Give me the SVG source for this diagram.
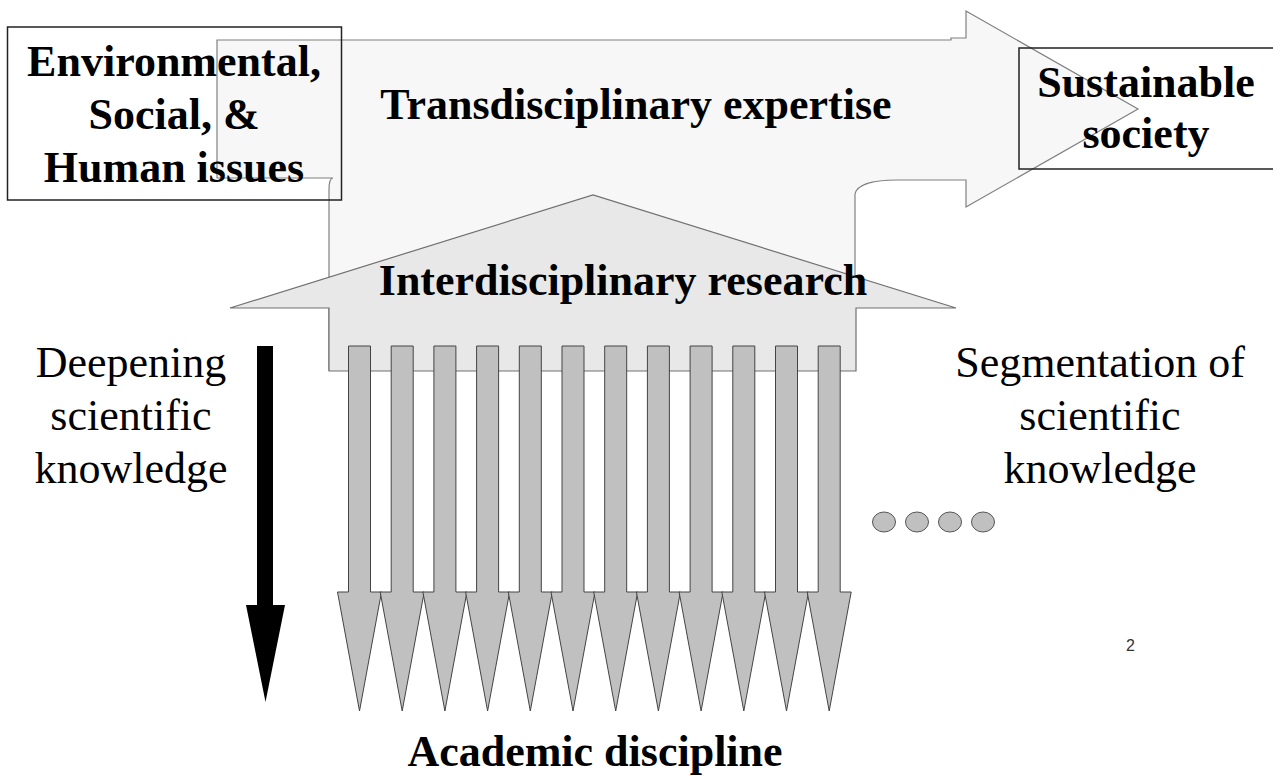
<svg xmlns="http://www.w3.org/2000/svg" width="1273" height="776" viewBox="0 0 1273 776">
<defs>
<style>
.bold{font-family:"Liberation Serif","Times New Roman",serif;font-weight:bold;font-size:44px;fill:#000;text-anchor:middle}
.reg{font-family:"Liberation Serif","Times New Roman",serif;font-size:44px;fill:#000;text-anchor:middle}
.box{fill:none;stroke:#222;stroke-width:1.5}
.bar{fill:#c0c0c0;stroke:#444;stroke-width:1}
.dot{fill:#c0c0c0;stroke:#555;stroke-width:1}
</style>
<polygon id="darr" class="bar" points="-11,346 11,346 11,592 22,592 0,711 -22,592 -11,592"/>
</defs>
<rect width="1273" height="776" fill="#fff"/>
<g id="transdisciplinary">
<path d="M217,40 H951 V38 H966 V11 L1138,109 L966,207 V180 H897 C875,180 857,184 855,194 V370 H329 V190 Q329,178 333,178 H217 Z" fill="#f7f7f7" stroke="#808080" stroke-width="1.2"/>
<text class="bold" x="636" y="119">Transdisciplinary expertise</text>
</g>
<g id="interdisciplinary">
<path d="M230,308 L593,195 L956,308 H856 V371 H329 V308 Z" fill="#e8e8e8" stroke="#707070" stroke-width="1.2"/>
<text class="bold" x="623" y="295">Interdisciplinary research</text>
</g>
<g id="disciplines">
<use href="#darr" x="359.5"/>
<use href="#darr" x="402.2"/>
<use href="#darr" x="444.9"/>
<use href="#darr" x="487.6"/>
<use href="#darr" x="530.3"/>
<use href="#darr" x="573"/>
<use href="#darr" x="615.7"/>
<use href="#darr" x="658.4"/>
<use href="#darr" x="701.1"/>
<use href="#darr" x="743.8"/>
<use href="#darr" x="786.5"/>
<use href="#darr" x="829.2"/>
</g>
<g id="issues">
<rect class="box" x="7.5" y="27" width="334" height="173"/>
<text class="bold" x="174" y="76">Environmental,</text>
<text class="bold" x="174" y="129">Social, &amp;</text>
<text class="bold" x="174" y="182">Human issues</text>
</g>
<g id="sustainable">
<rect class="box" x="1019" y="48" width="270" height="121"/>
<text class="bold" x="1146" y="97">Sustainable</text>
<text class="bold" x="1146" y="148">society</text>
</g>
<g id="connectors">
<polygon points="257,346 273,346 273,605 285,605 265.5,702 246,605 257,605" fill="#000"/>
</g>
<g id="deepening">
<text class="reg" x="131" y="377">Deepening</text>
<text class="reg" x="131" y="430">scientific</text>
<text class="reg" x="131" y="483">knowledge</text>
</g>
<g id="segmentation">
<text class="reg" x="1100" y="377">Segmentation of</text>
<text class="reg" x="1100" y="430">scientific</text>
<text class="reg" x="1100" y="483">knowledge</text>
</g>
<g id="ellipsis">
<ellipse class="dot" cx="884" cy="522" rx="11.5" ry="10"/>
<ellipse class="dot" cx="917" cy="522" rx="11.5" ry="10"/>
<ellipse class="dot" cx="950" cy="522" rx="11.5" ry="10"/>
<ellipse class="dot" cx="983" cy="522" rx="11.5" ry="10"/>
</g>
<g id="academic">
<text class="bold" x="595" y="766">Academic discipline</text>
</g>
<text x="1130.5" y="651" font-family="Liberation Sans, Arial, sans-serif" font-size="16" fill="#333" text-anchor="middle">2</text>
</svg>
